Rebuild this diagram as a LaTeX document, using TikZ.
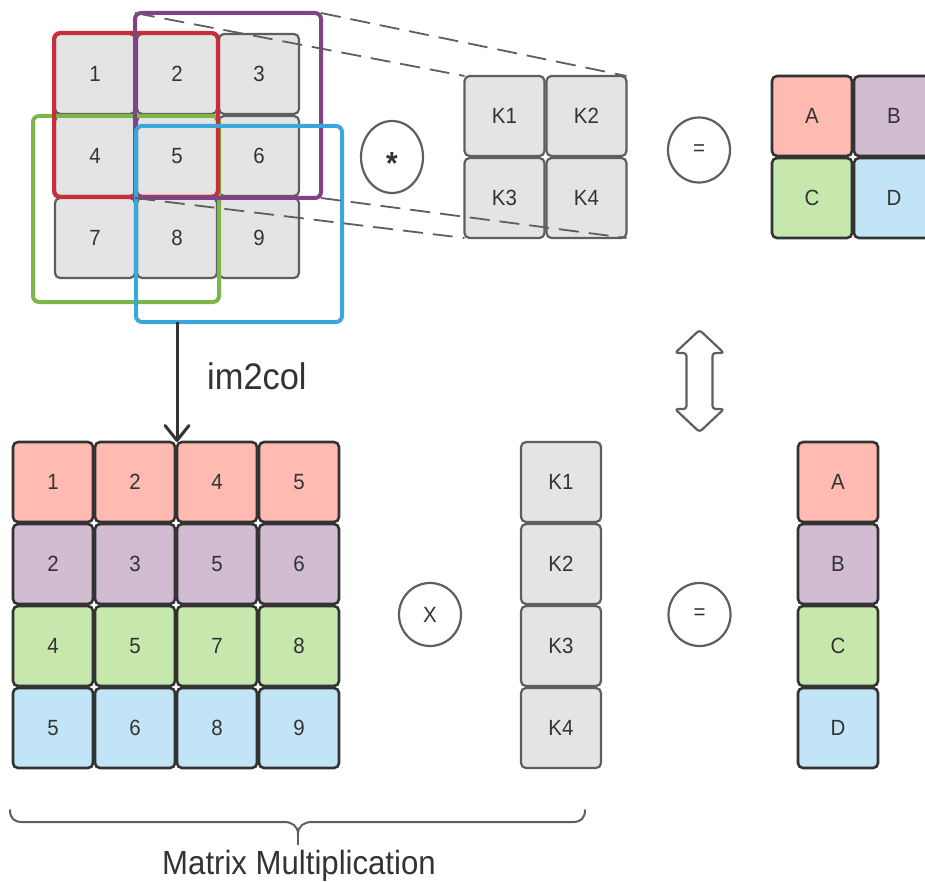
\documentclass[tikz,border=0pt]{standalone}
\usepackage{fontspec}
\setmainfont{Liberation Sans}[FakeStretch=0.93]
\usetikzlibrary{shapes.geometric,arrows.meta}
\definecolor{txt}{HTML}{333333}
\definecolor{gfill}{HTML}{E4E4E4}
\definecolor{gline}{HTML}{5E5E5E}
\definecolor{dline}{HTML}{333333}
\definecolor{fred}{HTML}{C92D39}
\definecolor{fpurple}{HTML}{834187}
\definecolor{fgreen}{HTML}{7AB648}
\definecolor{fblue}{HTML}{3AA6DD}
\definecolor{cred}{HTML}{FFBBB1}
\definecolor{cpurple}{HTML}{D1BCD2}
\definecolor{cgreen}{HTML}{C7E8AC}
\definecolor{cblue}{HTML}{C1E4F7}
\begin{document}
\begin{tikzpicture}[x=1pt,y=-1pt,
  cellg/.style={draw=gline, fill=gfill, line width=2.2pt, rounded corners=5pt,
    minimum size=80pt, inner sep=0pt, outer sep=0pt, text=txt,
    font=\fontsize{22}{22}\selectfont},
  cellc/.style={cellg, draw=dline, line width=2.6pt, fill=#1},
  frm/.style={draw=#1, line width=4pt, rounded corners=6pt, inner sep=0pt, outer sep=0pt},
  opcirc/.style={ellipse, draw=gline, line width=2.2pt, inner sep=0pt, outer sep=0pt,
    text=txt, font=\fontsize{22}{22}\selectfont},
  guide/.style={draw=gline, line width=1.8pt, dash pattern=on 20pt off 10pt},
  arr/.style={draw=dline, line width=3pt, -{Straight Barb[length=15pt,width=24pt,round]}},
  brace/.style={draw=gline, line width=2pt, line cap=round},
  dbl/.style={draw=gline, line width=2.2pt, rounded corners=3pt, line join=round}
]
\useasboundingbox (0,0) rectangle (925,882);

% input 3x3 grid
\foreach \r/\yy in {1/74,2/156,3/238}{
  \foreach \c/\xx in {1/95,2/177,3/259}{
    \pgfmathtruncatemacro{\v}{(\r-1)*3+\c}
    \node[cellg] (g-\r-\c) at (\xx,\yy) {\v};
  }
}

% kernel 2x2
\node[cellg] (k1) at (504.5,116) {K1};
\node[cellg] (k2) at (586.5,116) {K2};
\node[cellg] (k3) at (504.5,198) {K3};
\node[cellg] (k4) at (586.5,198) {K4};

% result 2x2
\node[cellc=cred]    (ra) at (812,116) {A};
\node[cellc=cpurple] (rb) at (894,116) {B};
\node[cellc=cgreen]  (rc) at (812,198) {C};
\node[cellc=cblue]   (rd) at (894,198) {D};

% sliding windows
\node[frm=fgreen,  minimum width=186pt, minimum height=186pt] (wgreen)  at (126,209) {};
\node[frm=fred,    minimum width=164pt, minimum height=164pt] (wred)    at (136,115) {};
\node[frm=fpurple, minimum width=186pt, minimum height=185pt] (wpurple) at (228,105.5) {};
\node[frm=fblue,   minimum width=206pt, minimum height=196pt] (wblue)   at (239,224) {};

% projection lines
\draw[guide] (wpurple.north west) -- (k1.north west);
\draw[guide] (wpurple.north east) -- (k2.north east);
\draw[guide] (wpurple.south east) -- (k4.south east);
\draw[guide] (wpurple.south west) -- (k3.south west);

% operators (top)
\node[opcirc, minimum width=62pt, minimum height=72pt,
  font=\bfseries\fontsize{32}{32}\selectfont] (conv) at (392,157)
  {\smash{\raisebox{-0.55em}{*}}};
\node[opcirc, minimum width=62pt, minimum height=65pt] (eq1) at (699,150) {=};

% double arrow
\draw[dbl] (699.5,330) -- (724,353) -- (712.5,353) -- (712.5,409) -- (724,409)
  -- (699.5,432) -- (675,409) -- (686.5,409) -- (686.5,353) -- (675,353) -- cycle;

% im2col matrix
\foreach \r/\yy/\col/\vals in {1/482/cred/{1,2,4,5},2/564/cpurple/{2,3,5,6},
                               3/646/cgreen/{4,5,7,8},4/728/cblue/{5,6,8,9}}{
  \foreach \v [count=\c] in \vals{
    \pgfmathsetmacro{\xx}{53+82*(\c-1)}
    \node[cellc=\col] (m-\r-\c) at (\xx,\yy) {\v};
  }
}

% kernel column
\node[cellg] (kc1) at (561,482) {K1};
\node[cellg] (kc2) at (561,564) {K2};
\node[cellg] (kc3) at (561,646) {K3};
\node[cellg] (kc4) at (561,728) {K4};

% result column
\node[cellc=cred]    (rc1) at (838,482) {A};
\node[cellc=cpurple] (rc2) at (838,564) {B};
\node[cellc=cgreen]  (rc3) at (838,646) {C};
\node[cellc=cblue]   (rc4) at (838,728) {D};

% operators (bottom)
\node[opcirc, minimum width=62pt, minimum height=63pt] (times) at (430,614.5) {X};
\node[opcirc, minimum width=62pt, minimum height=63pt] (eq2) at (699.5,614.5) {=};

% im2col arrow
\draw[arr] (wblue.south -| m-1-3.west) -- (m-1-3.north west);
\node[anchor=base west, inner sep=0pt, text=txt, font=\fontsize{37}{37}\selectfont]
  (im2col) at (207,389) {im2col};

% brace
\draw[brace] (10,810) .. controls (10,818) and (14,822) .. (22,822) -- (284,822)
  .. controls (292,822) and (298,826) .. (298,834)
  .. controls (298,826) and (304,822) .. (312,822) -- (573,822)
  .. controls (581,822) and (585,818) .. (585,810);
\draw[draw=gline, line width=1.3pt] (298,832) -- (298,845);
\node[anchor=base, inner sep=0pt, text=txt, font=\fontsize{33.5}{33.5}\selectfont]
  (mm) at (299,874) {Matrix Multiplication};
\end{tikzpicture}
\end{document}
